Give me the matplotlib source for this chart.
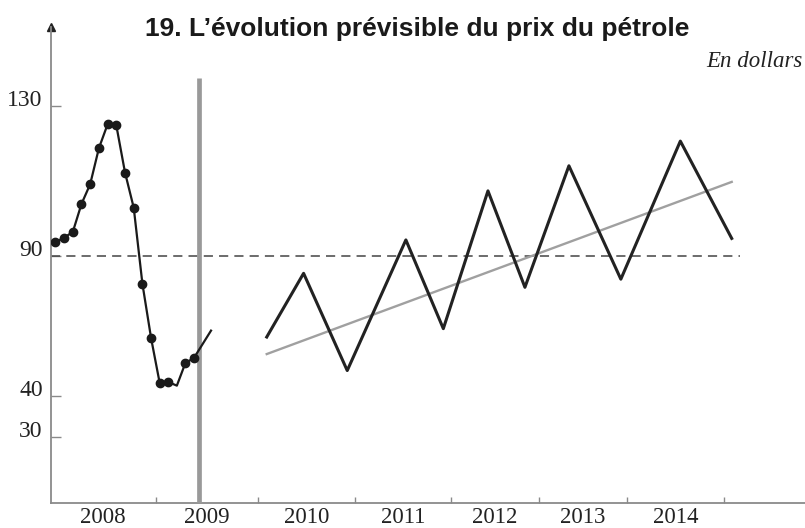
import numpy as np
import matplotlib
matplotlib.use("Agg")
import matplotlib.pyplot as plt

# --- data (dollars) ---
months_hist = ["2008-01", "2008-02", "2008-03", "2008-04", "2008-05", "2008-06",
               "2008-07", "2008-08", "2008-09", "2008-10", "2008-11", "2008-12",
               "2009-01", "2009-02", "2009-03", "2009-04", "2009-05", "2009-07"]
price_hist = [93.7, 94.9, 96.4, 103.9, 109.2, 118.8, 125.2, 124.9, 112.3, 102.9,
              80.0, 60.5, 44.4, 44.9, 43.6, 51.7, 53.5, 63.3]
dotted = [True] * 14 + [False, True, True, False]

zigzag_x = [2010.09, 2010.47, 2010.92, 2011.53, 2011.92, 2012.42,
            2012.84, 2013.34, 2013.93, 2014.55, 2015.08]
zigzag_y = [61.0, 83.8, 49.0, 94.3, 64.0, 107.4, 78.8, 114.1, 81.7, 120.7, 94.7]

trend_x = [2010.09, 2015.08]
trend_y = [54.9, 109.8]

ref_level = 90
today = 2009.42
years = [2008, 2009, 2010, 2011, 2012, 2013, 2014]
y_ticks = [30, 40, 90, 130]

# the original axes are not linear: piecewise scales rebuilt from tick positions
x_knots = [2008, 2009, 2010, 2011, 2012, 2013, 2014, 2015, 2015.84]
x_pos = [51, 155.5, 258, 355, 451, 539, 627, 724, 805]
y_knots = [14, 30, 40, 90, 130, 151]
y_pos = [-503, -437.3, -395.7, -256, -106.3, -27]


def fx(v):
    return np.interp(v, x_knots, x_pos)


def ix(p):
    return np.interp(p, x_pos, x_knots)


def fy(v):
    return np.interp(v, y_knots, y_pos)


def iy(p):
    return np.interp(p, y_pos, y_knots)


def month_to_x(m):
    yr, mo = m.split("-")
    return int(yr) + (int(mo) - 0.5) / 12


hist_x = [month_to_x(m) for m in months_hist]
mark_idx = [i for i, d in enumerate(dotted) if d]

fig = plt.figure(figsize=(8.05, 5.28), dpi=100)
ax = fig.add_axes([51 / 805, 25 / 528, 754 / 805, 476 / 528])
ax.set_xscale("function", functions=(fx, ix))
ax.set_yscale("function", functions=(fy, iy))
ax.set_xlim(2008, 2015.84)
ax.set_ylim(14, 151)

axis_col = "#8a8a8a"
for s in ["top", "right"]:
    ax.spines[s].set_visible(False)
for s in ["left", "bottom"]:
    ax.spines[s].set_color(axis_col)
    ax.spines[s].set_linewidth(1.3)

# reference level and "now" bar
ax.plot([2008, 2015.166], [ref_level, ref_level], color="#444444", lw=1.1,
        dashes=(6, 4))
ax.vlines(today, 14, 137.5, color="#999999", lw=3.4, zorder=3)

# history with monthly dots
ax.plot(hist_x, price_hist, color="#1a1a1a", lw=1.6, marker="o", ms=6,
        markevery=mark_idx, zorder=4)

# projection
ax.plot(trend_x, trend_y, color="#a0a0a0", lw=1.7, zorder=4)
ax.plot(zigzag_x, zigzag_y, color="#222222", lw=2.2, zorder=5)

serif = "Liberation Serif"
ax.set_yticks(y_ticks)
ax.set_yticklabels([str(t) for t in y_ticks], family=serif, fontsize=17,
                   color="#222222")
for lab in ax.get_yticklabels():
    lab.set_verticalalignment("baseline")
ax.tick_params(axis="y", direction="in", length=7, width=1, color=axis_col,
               pad=6)
ax.yaxis.set_minor_locator(matplotlib.ticker.NullLocator())

ax.set_xticks(years[1:] + [2015])
ax.set_xticklabels([])
ax.set_xticks([y + 0.5 for y in years], minor=True)
ax.set_xticklabels([str(y) for y in years], minor=True, family=serif,
                   fontsize=16.5, color="#222222")
ax.tick_params(axis="x", which="major", direction="in", length=4.5, width=1,
               color=axis_col)
ax.tick_params(axis="x", which="minor", length=0, pad=3)

# arrow tip on the vertical axis
ax.plot(0, 1, marker="^", ms=6, color="#222222", transform=ax.transAxes,
        clip_on=False)

fig.text(145 / 805, 1 - 36 / 528, "19. L\u2019évolution prévisible du prix du pétrole",
         family="Liberation Sans", weight="bold", fontsize=19, color="#1a1a1a",
         va="baseline", ha="left")
fig.text(803 / 805, 1 - 67 / 528, "En dollars", family=serif, style="italic",
         fontsize=16.5, color="#222222", va="baseline", ha="right")

fig.savefig("out.png", dpi=100)
